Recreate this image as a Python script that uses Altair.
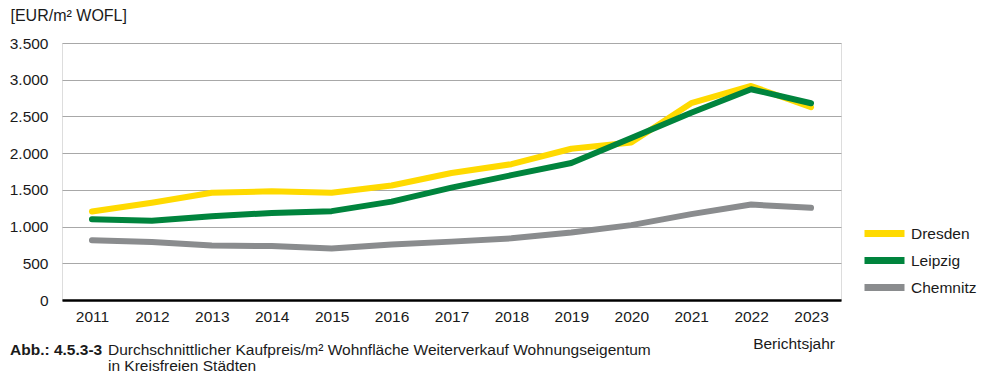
import altair as alt
import pandas as pd

years = list(range(2011, 2024))
dresden = [1205, 1325, 1460, 1480, 1460, 1560, 1730, 1850, 2060, 2145, 2680, 2915, 2625]
leipzig = [1100, 1080, 1140, 1185, 1210, 1340, 1530, 1700, 1865, 2205, 2550, 2870, 2680]
chemnitz = [815, 790, 742, 735, 700, 755, 795, 840, 920, 1020, 1170, 1300, 1255]
cities = ["Dresden", "Leipzig", "Chemnitz"]
colors = ["#FFDA00", "#00843D", "#8A8C8E"]
y_ticks = [0, 500, 1000, 1500, 2000, 2500, 3000, 3500]

y_title = "[EUR/m² WOFL]"
caption_bold = "Abb.: 4.5.3-3"
caption_line1 = "Durchschnittlicher Kaufpreis/m² Wohnfläche Weiterverkauf Wohnungseigentum"
caption_line2 = "in Kreisfreien Städten"
x_title = "Berichtsjahr"

rows = []
for i, (city, vals) in enumerate(zip(cities, [dresden, leipzig, chemnitz])):
    for y, v in zip(years, vals):
        rows.append({"Jahr": str(y), "Wert": v, "Stadt": city, "ord": i})
df = pd.DataFrame(rows)

FONT = "Liberation Sans"
FS = 15.5

lines = alt.Chart(df).mark_line(strokeWidth=6, strokeCap="round", strokeJoin="round").encode(
    x=alt.X("Jahr:O", scale=alt.Scale(type="point", padding=0.5),
            axis=alt.Axis(title=None, labelAngle=0, ticks=False, domain=True,
                          domainColor="#000000", domainWidth=2.5, labelPadding=9,
                          labelFontSize=FS, labelColor="#1a1a1a", labelFont=FONT, grid=False)),
    y=alt.Y("Wert:Q", scale=alt.Scale(domain=[0, 3500], nice=False),
            axis=alt.Axis(values=y_ticks, title=y_title, titleAngle=0, titleAlign="left",
                          titleBaseline="middle", titleX=-52, titleY=-28, titleFontSize=16,
                          titleFontWeight="normal", titleFont=FONT, titleColor="#1a1a1a",
                          labelExpr="replace(format(datum.value, ','), ',', '.')",
                          labelFontSize=FS, labelFont=FONT, labelColor="#1a1a1a",
                          labelPadding=14, ticks=False, domain=False,
                          grid=True, gridColor="#a8a8a8", gridWidth=1)),
    color=alt.Color("Stadt:N", scale=alt.Scale(domain=cities, range=colors),
                    legend=alt.Legend(title=None, orient="none", legendX=814, legendY=182,
                                      symbolType="M-4,0H4", symbolSize=100, symbolStrokeWidth=7,
                                      labelFontSize=FS, labelFont=FONT, labelColor="#1a1a1a",
                                      labelOffset=18, rowPadding=-2, padding=0)),
    order=alt.Order("ord:Q"),
)

def txt(s, x, y, weight="normal", align="left", size=FS):
    return alt.Chart(pd.DataFrame({"t": [s]})).mark_text(
        align=align, baseline="middle", fontSize=size, font=FONT, fontWeight=weight,
        color="#1a1a1a").encode(x=alt.value(x), y=alt.value(y), text="t:N")

chart = alt.layer(
    lines,
    txt(caption_bold, -52, 307, weight="bold"),
    txt(caption_line1, 46, 307),
    txt(caption_line2, 46, 323),
    txt(x_title, 773, 301, align="right"),
).properties(
    width=779, height=257,
    autosize=alt.AutoSizeParams(type="none"),
    padding={"left": 54, "top": 35, "right": 141, "bottom": 75},
).configure_view(stroke=None).configure(font=FONT, background="white")

chart.save("out.html", embed_options={"renderer": "svg", "actions": False})
